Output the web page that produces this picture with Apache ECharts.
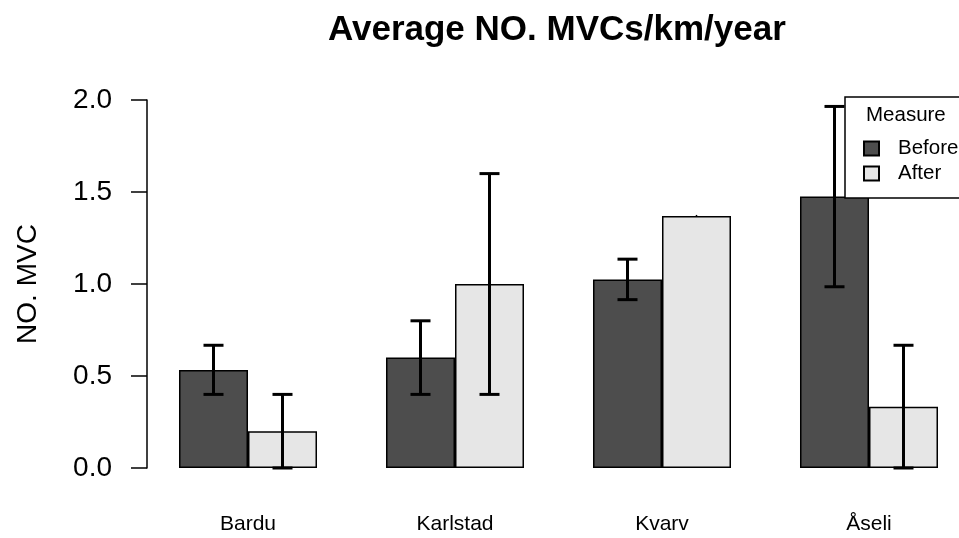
<!DOCTYPE html>
<html>
<head>
<meta charset="utf-8">
<script src="https://cdn.jsdelivr.net/npm/echarts@6.0.0/dist/echarts.min.js"></script>
<style>
html,body{margin:0;padding:0;background:#fff;overflow:hidden;}
#chart{width:985px;height:538px;}
</style>
</head>
<body>
<div id="chart"></div>
<script>
var categories = ['Bardu', 'Karlstad', 'Kvarv', 'Åseli'];
var beforeValues = [0.533, 0.6, 1.025, 1.475];
var afterValues = [0.2, 1.0, 1.37, 0.333];
var beforeLow = [0.4, 0.4, 0.915, 0.985];
var beforeHigh = [0.667, 0.8, 1.135, 1.965];
var afterLow = [0, 0.4, 1.37, 0];
var afterHigh = [0.4, 1.6, 1.37, 0.667];

var FONT = '"Liberation Sans", Arial, sans-serif';

function errData(lows, highs) {
  return categories.map(function (c, i) { return [i, lows[i], highs[i]]; });
}

function makeErr(sign) {
  return function (params, api) {
    var i = api.value(0);
    var lo = api.coord([i, api.value(1)]);
    var hi = api.coord([i, api.value(2)]);
    var bw = api.size([1, 0])[0] / 3;
    var x = lo[0] + sign * bw / 2;
    var style = { stroke: '#000', lineWidth: 3 };
    if (Math.abs(lo[1] - hi[1]) < 0.5) {
      return { type: 'group', children: [
        { type: 'line', shape: { x1: x, y1: lo[1] - 1, x2: x, y2: lo[1] + 1 }, style: { stroke: '#000', lineWidth: 1.5 } }
      ] };
    }
    return {
      type: 'group',
      children: [
        { type: 'line', shape: { x1: x, y1: lo[1], x2: x, y2: hi[1] }, style: style },
        { type: 'line', shape: { x1: x - 10, y1: lo[1], x2: x + 10, y2: lo[1] }, style: style },
        { type: 'line', shape: { x1: x - 10, y1: hi[1], x2: x + 10, y2: hi[1] }, style: style }
      ]
    };
  };
}

var chart = echarts.init(document.getElementById('chart'), null, { renderer: 'canvas' });
chart.setOption({
  backgroundColor: '#fff',
  animation: false,
  title: {
    text: 'Average NO. MVCs/km/year',
    left: 328,
    top: 13,
    padding: 0,
    textStyle: { fontFamily: FONT, fontSize: 35, fontWeight: 'bold', color: '#000' }
  },
  legend: {
    orient: 'vertical',
    left: 845,
    top: 97,
    padding: [41, 30, 14, 18],
    icon: 'rect',
    itemWidth: 15,
    itemHeight: 14,
    itemGap: 4,
    backgroundColor: '#fff',
    borderColor: '#000',
    borderWidth: 1.5,
    borderRadius: 0,
    data: ['Before', 'After'],
    textStyle: { fontFamily: FONT, fontSize: 20.5, color: '#000', padding: [0, 0, 0, 14] },
    z: 10
  },
  graphic: [{
    type: 'text',
    left: 866,
    top: 105,
    z: 20,
    style: { text: 'Measure', fontFamily: FONT, fontSize: 20.5, fill: '#000' }
  }],
  grid: { left: 144.5, top: 100, width: 828, height: 368, containLabel: false },
  xAxis: {
    type: 'category',
    data: categories,
    boundaryGap: true,
    axisLine: { show: false },
    axisTick: { show: false },
    axisLabel: { fontFamily: FONT, fontSize: 21, color: '#000', margin: 46 }
  },
  yAxis: {
    type: 'value',
    min: 0,
    max: 2,
    interval: 0.5,
    offset: -2.5,
    name: 'NO. MVC',
    nameLocation: 'middle',
    nameGap: 105,
    nameTextStyle: { fontFamily: FONT, fontSize: 28, color: '#000' },
    axisLine: { show: true, lineStyle: { color: '#000', width: 1.5 } },
    axisTick: { show: true, length: 16, lineStyle: { color: '#000', width: 1.5 } },
    splitLine: { show: false },
    axisLabel: {
      fontFamily: FONT, fontSize: 28, color: '#000', margin: 35,
      formatter: function (v) { return v.toFixed(1); }
    }
  },
  series: [
    {
      name: 'Before', type: 'bar', data: beforeValues,
      barGap: '0%', barCategoryGap: '33.333%',
      itemStyle: { color: '#4d4d4d', borderColor: '#000', borderWidth: 1.5 }
    },
    {
      name: 'After', type: 'bar', data: afterValues,
      barGap: '0%', barCategoryGap: '33.333%',
      itemStyle: { color: '#e6e6e6', borderColor: '#000', borderWidth: 1.5 }
    },
    {
      type: 'custom', name: 'errBefore', data: errData(beforeLow, beforeHigh),
      encode: { x: 0, y: [1, 2] }, renderItem: makeErr(-1), z: 5, silent: true
    },
    {
      type: 'custom', name: 'errAfter', data: errData(afterLow, afterHigh),
      encode: { x: 0, y: [1, 2] }, renderItem: makeErr(1), z: 5, silent: true
    }
  ]
});
</script>
</body>
</html>
